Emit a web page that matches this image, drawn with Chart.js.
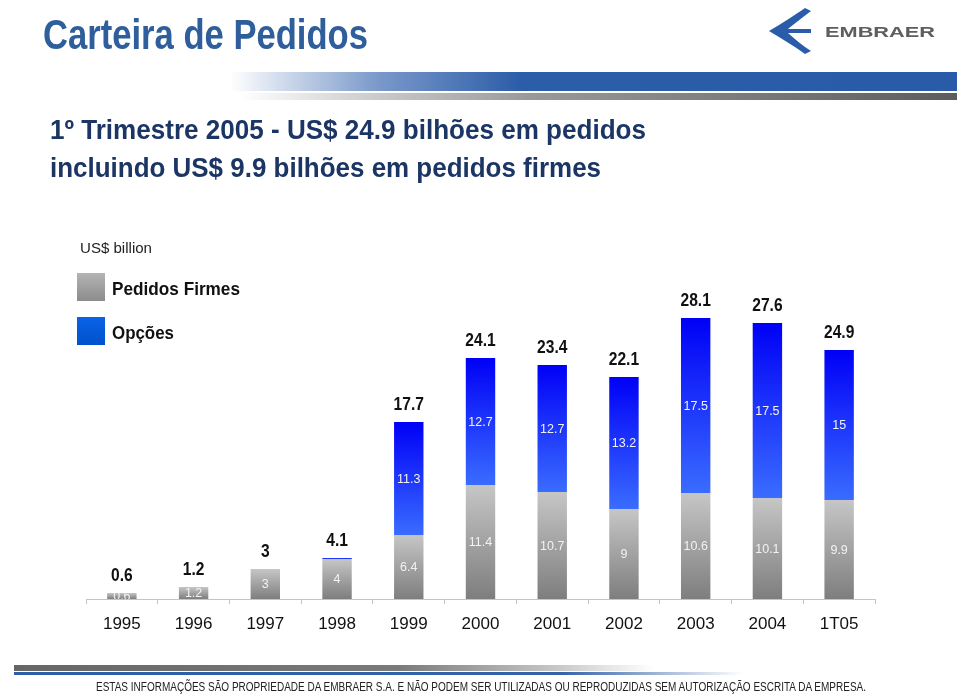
<!DOCTYPE html>
<html><head><meta charset="utf-8">
<script src="https://cdn.jsdelivr.net/npm/chart.js@4.4.1/dist/chart.umd.min.js"></script>
<style>
html,body{margin:0;padding:0;background:#fff;}
#page{position:relative;width:960px;height:696px;overflow:hidden;font-family:"Liberation Sans",Arial,sans-serif;}
.t{position:absolute;white-space:nowrap;transform-origin:0 0;line-height:1;}
.blk{position:absolute;}
canvas{position:absolute;left:0;top:0;}
</style></head><body>
<div id="page">
  <canvas id="c" width="960" height="696"></canvas>
  <div class="blk" style="left:230px;top:72px;width:727px;height:19px;background:linear-gradient(to right,#ffffff 0%,#7c9acb 20%,#2c5da8 40%,#2a5ba8 100%);"></div>
  <div class="blk" style="left:240px;top:93px;width:717px;height:7px;background:linear-gradient(to right,#ffffff 0%,#c8c8c8 20%,#9a9a9a 40%,#5c5c5c 100%);"></div>
  <svg class="blk" style="left:760px;top:0px" width="60" height="60" viewBox="760 0 60 60">
    <path d="M769,31 C781,24 795,15 805,8 L811,11 C802,18 794,24 788,29 L811,29 L811,33 L788,33 C795,39 803,46 811,51 L805,54 C794,46 781,38 769,31 Z" fill="#2a5caa"/>
  </svg>
  <div id="logo" class="t" style="color:#5e5e5e;font-weight:900;">EMBRAER</div>
  <div id="title" class="t" style="color:#2e5e9b;font-weight:bold;">Carteira de Pedidos</div>
  <div id="sub1" class="t" style="color:#1b3564;font-weight:bold;">1º Trimestre 2005 - US$ 24.9 bilhões em pedidos</div>
  <div id="sub2" class="t" style="color:#1b3564;font-weight:bold;">incluindo US$ 9.9 bilhões em pedidos firmes</div>
  <div id="unit" class="t" style="color:#222;">US$ billion</div>
  <div class="blk" style="left:77px;top:273px;width:28px;height:28px;background:linear-gradient(to bottom,#b4b4b4,#8c8c8c);"></div>
  <div class="blk" style="left:77px;top:317px;width:28px;height:28px;background:linear-gradient(to bottom,#0a62e6,#0052cc);"></div>
  <div id="lg1" class="t" style="color:#111;font-weight:bold;">Pedidos Firmes</div>
  <div id="lg2" class="t" style="color:#111;font-weight:bold;">Opções</div>
  <div class="blk" style="left:14px;top:665px;width:640px;height:6px;background:linear-gradient(to right,#666 0%,#7a7a7a 60%,#c8c8c8 85%,#ffffff 100%);"></div>
  <div class="blk" style="left:14px;top:672px;width:730px;height:3px;background:linear-gradient(to right,#2d5ea6 0%,#3463a8 75%,#ffffff 100%);"></div>
  <div id="foot" class="t" style="color:#222;">ESTAS INFORMAÇÕES SÃO PROPRIEDADE DA EMBRAER S.A. E NÃO PODEM SER UTILIZADAS OU REPRODUZIDAS SEM AUTORIZAÇÃO ESCRITA DA EMPRESA.</div>
</div>
<script>
const categories = ['1995','1996','1997','1998','1999','2000','2001','2002','2003','2004','1T05'];
const firmOrders = [0.6, 1.2, 3, 4, 6.4, 11.4, 10.7, 9, 10.6, 10.1, 9.9];
const optionOrders = [0, 0, 0, 0.1, 11.3, 12.7, 12.7, 13.2, 17.5, 17.5, 15];
const totals = [0.6, 1.2, 3, 4.1, 17.7, 24.1, 23.4, 22.1, 28.1, 27.6, 24.9];
const seriesNames = ['Pedidos Firmes', 'Opções'];

function fit(id, left, baseline, fs, width){
  const el = document.getElementById(id);
  el.style.fontSize = fs + 'px';
  el.style.left = left + 'px';
  el.style.top = (baseline - 0.8465*fs) + 'px';
  const w = el.getBoundingClientRect().width;
  el.style.transform = 'scaleX(' + (width/w) + ')';
}
fit('title', 43, 50, 42, 325);
fit('sub1', 50, 140, 28, 596);
fit('sub2', 50, 178, 28, 551);
fit('unit', 80, 253, 15.5, 72);
fit('lg1', 112, 295, 19, 128);
fit('lg2', 112, 339, 19, 62);
fit('foot', 96, 691, 12, 770);
fit('logo', 825, 36.5, 15, 110);

function grad(chart, topVal, botVal, c1, c2){
  const {ctx, chartArea, scales} = chart;
  if (!chartArea || !scales.y) return c2;
  const y0 = scales.y.getPixelForValue(topVal);
  const y1 = scales.y.getPixelForValue(botVal);
  if (Math.abs(y1 - y0) < 0.5) return c2;
  const g = ctx.createLinearGradient(0, y0, 0, y1);
  g.addColorStop(0, c1); g.addColorStop(1, c2);
  return g;
}

const labelPlugin = {
  id: 'lbls',
  afterDatasetsDraw(chart){
    const ctx = chart.ctx;
    const m0 = chart.getDatasetMeta(0), m1 = chart.getDatasetMeta(1);
    ctx.save();
    ctx.textAlign = 'center'; ctx.textBaseline = 'middle';
    [[m0, firmOrders], [m1, optionOrders]].forEach(([m, arr]) => {
      m.data.forEach((bar, i) => {
        if (arr[i] < 0.3) return;
        const p = bar.getProps(['x','y','base','width'], true);
        ctx.save();
        ctx.beginPath();
        ctx.rect(p.x - p.width/2, Math.min(p.y,p.base), p.width, Math.abs(p.base - p.y));
        ctx.clip();
        ctx.font = '12.5px "Liberation Sans", Arial, sans-serif';
        ctx.fillStyle = '#f2f2f2';
        ctx.fillText(String(arr[i]), p.x, (p.y + p.base)/2 + 1);
        ctx.restore();
      });
    });
    m1.data.forEach((bar, i) => {
      const top = Math.min(bar.y, m0.data[i].y);
      ctx.save();
      ctx.translate(bar.x, top - 17);
      ctx.scale(0.82, 1);
      ctx.font = 'bold 19px "Liberation Sans", Arial, sans-serif';
      ctx.fillStyle = '#111';
      ctx.fillText(String(totals[i]), 0, 0);
      ctx.restore();
    });
    ctx.restore();
  }
};

new Chart(document.getElementById('c'), {
  type: 'bar',
  data: {
    labels: categories,
    datasets: [
      { label: seriesNames[0], data: firmOrders,
        backgroundColor: (c) => c.type !== 'data' ? '#999' : grad(c.chart, firmOrders[c.dataIndex], 0, '#c6c6c6', '#7e7e7e') },
      { label: seriesNames[1], data: optionOrders,
        backgroundColor: (c) => c.type !== 'data' ? '#2255ff' : grad(c.chart, firmOrders[c.dataIndex] + optionOrders[c.dataIndex], firmOrders[c.dataIndex], '#0000f6', '#3a6cff') }
    ]
  },
  options: {
    responsive: false,
    animation: false,
    events: [],
    layout: { padding: { left: 86, right: 85, top: 299, bottom: 51.6 } },
    plugins: { legend: { display: false }, tooltip: { enabled: false } },
    datasets: { bar: { categoryPercentage: 1, barPercentage: 0.41, borderWidth: 0 } },
    scales: {
      x: {
        stacked: true,
        offset: true,
        grid: { display: true, drawOnChartArea: false, drawTicks: true, tickLength: 5, color: '#c4c4c4', offset: true },
        border: { display: true, color: '#c4c4c4' },
        ticks: { color: '#111', padding: 10, font: { size: 17, family: '"Liberation Sans", Arial, sans-serif' } }
      },
      y: { stacked: true, display: false, min: 0, max: 30 }
    }
  },
  plugins: [labelPlugin]
});
</script>
</body></html>
